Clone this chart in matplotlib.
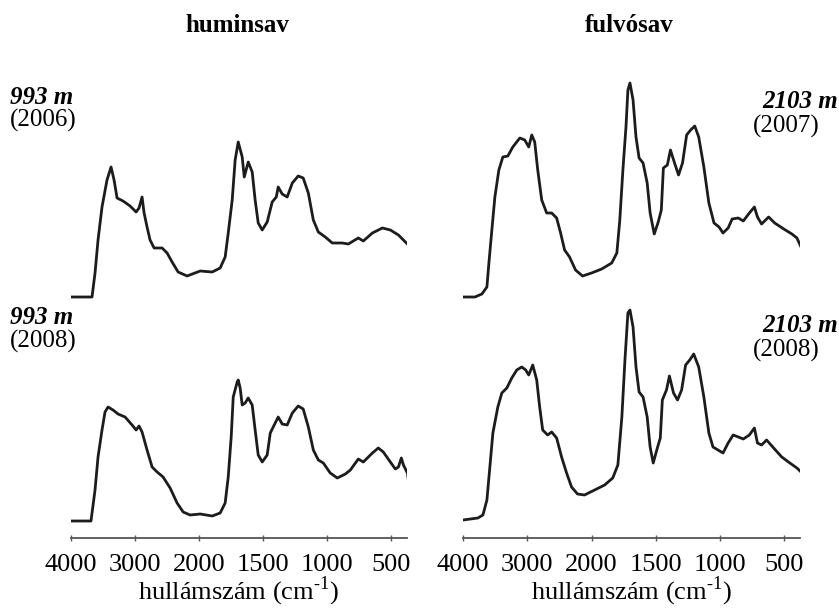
import matplotlib
matplotlib.use('Agg')
import matplotlib.pyplot as plt
import numpy as np

plt.rcParams['font.family'] = ['Liberation Serif', 'DejaVu Serif']
plt.rcParams['mathtext.fontset'] = 'custom'
plt.rcParams['mathtext.rm'] = 'Liberation Serif'

# --- leolvasott spektrumok (hullámszám cm-1, relatív abszorbancia) ---
hs06_w = [4000, 3672, 3625, 3578, 3516, 3438, 3375, 3328, 3281, 3188, 3078, 2984, 2938, 2891, 2859,
          2813, 2766, 2703, 2578, 2500, 2422, 2328, 2188, 1992, 1898, 1836, 1797, 1773, 1742, 1719,
          1695, 1664, 1648, 1617, 1586, 1563, 1539, 1508, 1469, 1430, 1398, 1383, 1352, 1313, 1273,
          1227, 1188, 1148, 1109, 1070, 1016, 961, 883, 836, 758, 719, 648, 570, 508, 445, 375]
hs06_a = [0, 0, 24, 57, 90, 117, 130, 117, 99, 96, 91, 85, 89, 100, 84,
          70, 57, 49, 49, 44, 35, 25, 21, 26, 25, 29, 40, 64, 97, 137,
          155, 140, 120, 135, 125, 97, 74, 67, 75, 95, 100, 110, 103, 100, 114,
          121, 119, 104, 77, 65, 60, 54, 54, 53, 59, 56, 64, 69, 67, 62, 53]

hs08_w = [4000, 3688, 3625, 3578, 3516, 3469, 3422, 3344, 3266, 3156, 3047, 2984, 2938, 2891, 2813,
          2734, 2656, 2563, 2453, 2344, 2250, 2141, 1992, 1898, 1836, 1797, 1773, 1750, 1734, 1703,
          1695, 1680, 1664, 1641, 1617, 1586, 1563, 1539, 1508, 1469, 1445, 1422, 1383, 1352, 1313,
          1273, 1227, 1188, 1148, 1109, 1070, 1031, 977, 922, 859, 820, 758, 719, 648, 602,
          563, 508, 469, 445, 422, 406, 375, 359]
hs08_a = [0, 0, 31, 64, 91, 109, 114, 111, 107, 104, 96, 91, 95, 89, 71,
          54, 49, 44, 33, 18, 9, 6, 7, 5, 8, 18, 44, 84, 124, 139,
          141, 133, 116, 118, 123, 116, 91, 66, 59, 66, 88, 94, 104, 97, 96,
          108, 115, 112, 94, 71, 61, 58, 48, 43, 47, 51, 62, 59, 68, 73,
          69, 59, 52, 54, 63, 56, 48, 34]

fs07_w = [4000, 3814, 3706, 3628, 3597, 3551, 3504, 3442, 3380, 3302, 3225, 3116, 3039, 2977, 2930,
          2884, 2837, 2775, 2698, 2620, 2543, 2481, 2419, 2342, 2249, 2140, 2000, 1921, 1843, 1803,
          1780, 1756, 1732, 1717, 1701, 1677, 1654, 1630, 1599, 1567, 1544, 1512, 1481, 1457, 1441,
          1410, 1386, 1354, 1323, 1292, 1260, 1229, 1197, 1166, 1126, 1087, 1047, 1008, 977, 937,
          906, 858, 819, 772, 733, 709, 677, 622, 575, 504, 441, 402, 370]
fs07_a = [0, 0, 3, 10, 34, 67, 100, 127, 140, 141, 150, 159, 157, 150, 162,
          155, 127, 97, 84, 84, 79, 64, 47, 40, 27, 21, 24, 28, 34, 44,
          77, 127, 170, 207, 214, 197, 160, 139, 134, 114, 84, 63, 75, 87, 129,
          132, 147, 134, 122, 134, 162, 167, 171, 160, 130, 94, 74, 70, 64, 69,
          78, 79, 76, 84, 90, 80, 73, 80, 74, 68, 63, 59, 50]

fs08_w = [4000, 3768, 3690, 3628, 3582, 3535, 3458, 3396, 3318, 3241, 3163, 3086, 3024, 2977, 2915,
          2853, 2807, 2760, 2683, 2620, 2543, 2466, 2388, 2311, 2218, 2109, 1976, 1898, 1835, 1795,
          1764, 1740, 1717, 1701, 1677, 1654, 1630, 1599, 1567, 1544, 1520, 1488, 1465, 1449, 1417,
          1394, 1362, 1331, 1299, 1268, 1236, 1205, 1166, 1126, 1087, 1055, 1016, 977, 937, 898,
          858, 819, 772, 733, 709, 677, 638, 583, 520, 457, 402, 370]
fs08_a = [0, 2, 5, 20, 53, 87, 113, 127, 132, 142, 150, 153, 150, 145, 155,
          140, 113, 90, 85, 88, 82, 63, 47, 33, 26, 25, 30, 35, 42, 55,
          103, 160, 207, 210, 193, 153, 128, 123, 103, 73, 57, 72, 82, 120, 130,
          144, 127, 120, 130, 155, 160, 166, 153, 123, 87, 73, 70, 67, 77, 85,
          83, 81, 85, 92, 77, 75, 80, 72, 63, 57, 52, 48]

tick_vals = [4000, 3000, 2000, 1500, 1000, 500]


# 2000 cm-1 alatt kétszeres nyújtás
def fwd(w):
    w = np.asarray(w, dtype=float)
    return np.where(w >= 2000, w, 2 * w - 2000)


def inv(t):
    t = np.asarray(t, dtype=float)
    return np.where(t >= 2000, t, (t + 2000) / 2)


W, H = 839, 614
fig = plt.figure(figsize=(W / 100, H / 100), dpi=100, facecolor='white')


def px_axes(x0, x1, ytop, ybot):
    return fig.add_axes([x0 / W, 1 - ybot / H, (x1 - x0) / W, (ybot - ytop) / H])


def spectrum(ax, w, a, base_px, top_px, bot_px, bottom_axis):
    ax.plot(w, a, color='#1c1c1c', lw=2.0, solid_joinstyle='round')
    ax.set_xscale('function', functions=(fwd, inv))
    ax.set_xlim(4000, 378)
    ax.set_ylim(base_px - bot_px, base_px - top_px)
    for s in ['top', 'left', 'right']:
        ax.spines[s].set_visible(False)
    ax.set_yticks([])
    ax.patch.set_alpha(0)
    if bottom_axis:
        ax.spines['bottom'].set_color('#555555')
        ax.spines['bottom'].set_linewidth(1.3)
        ax.set_xticks(tick_vals)
        ax.set_xticklabels([str(t) for t in tick_vals])
        ax.tick_params(axis='x', direction='inout', length=5, width=1.0,
                       color='#555555', labelsize=19, pad=9)
        ax.set_xlabel('hullámszám (cm$^{\\mathrm{\u20101}}$)', fontsize=19, labelpad=-1)
    else:
        ax.spines['bottom'].set_visible(False)
        ax.set_xticks([])
        ax.minorticks_off()


ax1 = px_axes(71, 407, 60, 305)
spectrum(ax1, hs06_w, hs06_a, 297, 60, 305, False)
ax2 = px_axes(71, 407, 305, 538)
spectrum(ax2, hs08_w, hs08_a, 521, 305, 538, True)
ax3 = px_axes(463, 800, 60, 305)
spectrum(ax3, fs07_w, fs07_a, 297, 60, 305, False)
ax4 = px_axes(463, 800, 305, 538)
spectrum(ax4, fs08_w, fs08_a, 520, 305, 538, True)


def label(x, y, s, **kw):
    fig.text(x / W, 1 - y / H, s, va='center', **kw)


label(237, 25, 'huminsav', ha='center', fontsize=18, fontweight='bold')
label(629, 25, 'fulvósav', ha='center', fontsize=18, fontweight='bold')

label(10, 97, '993 m', fontsize=18, fontweight='bold', style='italic')
label(10, 120, '(2006)', fontsize=18)
label(10, 318, '993 m', fontsize=18, fontweight='bold', style='italic')
label(10, 341, '(2008)', fontsize=18)
label(762, 102, '2103 m', fontsize=18, fontweight='bold', style='italic')
label(753, 126, '(2007)', fontsize=18)
label(762, 325, '2103 m', fontsize=18, fontweight='bold', style='italic')
label(753, 350, '(2008)', fontsize=18)

fig.savefig('out.png', dpi=100, facecolor='white')
